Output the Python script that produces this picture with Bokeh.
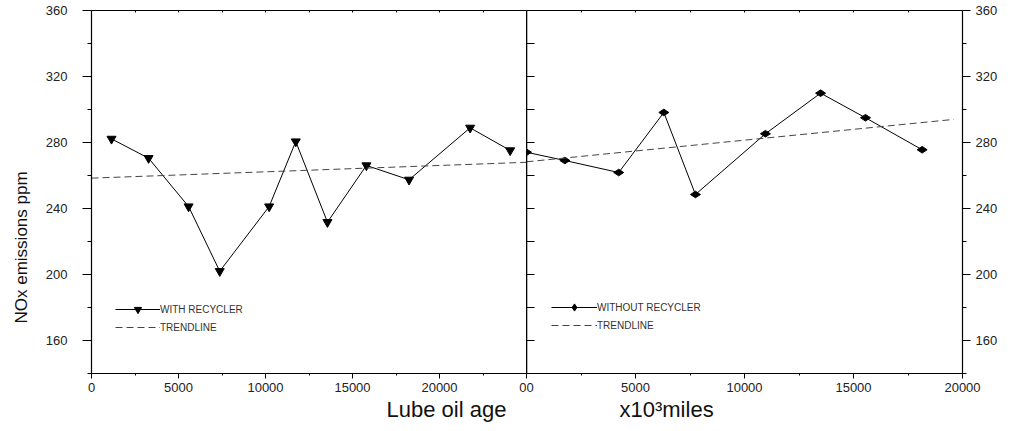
import math
from bokeh.plotting import figure
from bokeh.models import LinearAxis, FixedTicker, Range1d, Legend, LegendItem, Title
from bokeh.layouts import row
from bokeh.embed import file_html
from bokeh.resources import INLINE

# ---------------- data ----------------
with_x = [1150, 3280, 5580, 7370, 10210, 11740, 13560, 15800, 18250, 21760, 24060]
with_y = [282.2, 270.5, 241.2, 202.0, 241.2, 280.6, 231.7, 266.1, 257.4, 288.9, 275.2]
trend_with_x = [0, 25000]
trend_with_y = [258.4, 268.0]

without_x = [0, 1760, 4230, 6300, 7750, 10960, 13490, 15550, 18150]
without_y = [274.1, 269.1, 261.8, 298.2, 248.5, 285.3, 309.9, 295.0, 275.6]
trend_without_x = [0, 19600]
trend_without_y = [268.3, 294.0]

y_major = [160, 200, 240, 280, 320, 360]
y_minor = [140, 180, 220, 260, 300, 340]
y_inner = [140, 160, 180, 200, 220, 240, 260, 280, 300, 320, 340, 360]
left_x_major = [0, 5000, 10000, 15000, 20000, 25000]
left_x_minor = [2500, 7500, 12500, 17500, 22500]
right_x_major = [0, 5000, 10000, 15000, 20000]
right_x_minor = [2500, 7500, 12500, 17500]
left_top_ticks = [0, 2500, 5000, 7500, 10000, 12500, 15000, 17500, 20000, 22500, 25000]
right_top_ticks = [0, 2500, 5000, 7500, 10000, 12500, 15000, 17500, 20000]

label_with = "WITH RECYCLER"
label_without = "WITHOUT RECYCLER"
label_trend = "TRENDLINE"
y_title = "NOx emissions  ppm"
x_title_a = "Lube oil age"
x_title_b = "x10\u00b3miles"

FONT = "Liberation Sans"
TICK_COLOR = "#222222"


def style_axis(ax):
    ax.axis_line_color = "black"
    ax.axis_line_width = 1.2
    ax.major_tick_line_color = "black"
    ax.minor_tick_line_color = "black"
    ax.major_label_text_font = FONT
    ax.major_label_text_font_size = "13px"
    ax.major_label_text_color = TICK_COLOR


def blank_axis(ticks, tick_in, tick_out=0, width=1.2):
    ax = LinearAxis(ticker=FixedTicker(ticks=ticks, minor_ticks=[]))
    ax.axis_line_color = "black"
    ax.axis_line_width = width
    ax.major_tick_line_color = "black"
    ax.major_tick_in = tick_in
    ax.major_tick_out = tick_out
    ax.minor_tick_in = 0
    ax.minor_tick_out = 0
    ax.major_label_overrides = {t: "" for t in ticks}
    ax.major_label_standoff = 0
    ax.axis_label = None
    return ax


def base_fig(width, x_end, **kw):
    p = figure(width=width, height=430, x_range=Range1d(0, x_end), y_range=Range1d(140, 360),
               output_backend="svg", toolbar_location=None,
               min_border_top=10, min_border_bottom=57, **kw)
    p.xgrid.visible = False
    p.ygrid.visible = False
    p.outline_line_color = None
    p.background_fill_color = "white"
    p.border_fill_color = "white"
    return p


# ---------------- left panel ----------------
left = base_fig(526, 25000, min_border_left=91, min_border_right=0)

bx = left.xaxis[0]
bx.ticker = FixedTicker(ticks=left_x_major, minor_ticks=left_x_minor)
bx.major_label_overrides = {25000: "0"}
style_axis(bx)
bx.major_tick_out = 5
bx.major_tick_in = 0
bx.minor_tick_out = 2
bx.minor_tick_in = 0
bx.major_label_standoff = 4

ly = left.yaxis[0]
ly.ticker = FixedTicker(ticks=y_major, minor_ticks=y_minor)
style_axis(ly)
ly.major_tick_out = 9
ly.major_tick_in = 0
ly.minor_tick_out = 4
ly.minor_tick_in = 0
ly.major_label_standoff = 15

left.add_layout(blank_axis(left_top_ticks, 2), "above")

l_line = left.line(with_x, with_y, line_color="black", line_width=1)
l_pts = left.scatter(with_x, with_y, marker="inverted_triangle", size=9,
                     fill_color="black", line_color="black")
l_trend = left.line(trend_with_x, trend_with_y, line_color="#444444", line_width=1, line_dash="7 4")

leg_l = Legend(items=[LegendItem(label=label_with, renderers=[l_line, l_pts]),
                      LegendItem(label=label_trend, renderers=[l_trend])],
               location=(24, 37), glyph_width=45, glyph_height=18, label_height=18,
               label_standoff=0, padding=0, margin=0, spacing=0,
               border_line_alpha=0, background_fill_alpha=0,
               label_text_font=FONT, label_text_font_size="10px", label_text_color="#333333")
left.add_layout(leg_l)

left.add_layout(Title(text=y_title, align="left", offset=50, vertical_align="middle",
                      standoff=21, text_font=FONT, text_font_size="17px",
                      text_font_style="normal", text_color="#111111"), "left")
left.add_layout(Title(text=x_title_a, align="left", offset=295, vertical_align="top",
                      standoff=4, text_font=FONT, text_font_size="22px",
                      text_font_style="normal", text_color="#111111"), "below")

# ---------------- right panel ----------------
right = base_fig(484, 20000, min_border_left=0, min_border_right=48, y_axis_location="right")

rbx = right.xaxis[0]
rbx.ticker = FixedTicker(ticks=right_x_major, minor_ticks=right_x_minor)
style_axis(rbx)
rbx.major_tick_out = 5
rbx.major_tick_in = 0
rbx.minor_tick_out = 2
rbx.minor_tick_in = 0
rbx.major_label_standoff = 4

ry = right.yaxis[0]
ry.ticker = FixedTicker(ticks=y_major, minor_ticks=y_minor)
style_axis(ry)
ry.major_tick_out = 8
ry.major_tick_in = 0
ry.minor_tick_out = 4
ry.minor_tick_in = 0
ry.major_label_standoff = 5

right.add_layout(blank_axis(right_top_ticks, 2), "above")
right.add_layout(blank_axis(y_inner, 8, 0, 1.6), "left")

r_line = right.line(without_x, without_y, line_color="black", line_width=1)
r_pts = right.scatter(without_x, without_y, marker="diamond", size=10, angle=math.pi / 2,
                      fill_color="black", line_color="black")
r_trend = right.line(trend_without_x, trend_without_y, line_color="#444444", line_width=1,
                     line_dash="7 4")

leg_r = Legend(items=[LegendItem(label=label_without, renderers=[r_line, r_pts]),
                      LegendItem(label=label_trend, renderers=[r_trend])],
               location=(25, 39), glyph_width=46, glyph_height=18, label_height=18,
               label_standoff=0, padding=0, margin=0, spacing=0,
               border_line_alpha=0, background_fill_alpha=0,
               label_text_font=FONT, label_text_font_size="10px", label_text_color="#333333")
right.add_layout(leg_r)

right.add_layout(Title(text=x_title_b, align="left", offset=93, vertical_align="top",
                       standoff=4, text_font=FONT, text_font_size="22px",
                       text_font_style="normal", text_color="#111111"), "below")

layout = row(left, right, spacing=0)
open("out.html", "w").write(file_html(layout, INLINE))
